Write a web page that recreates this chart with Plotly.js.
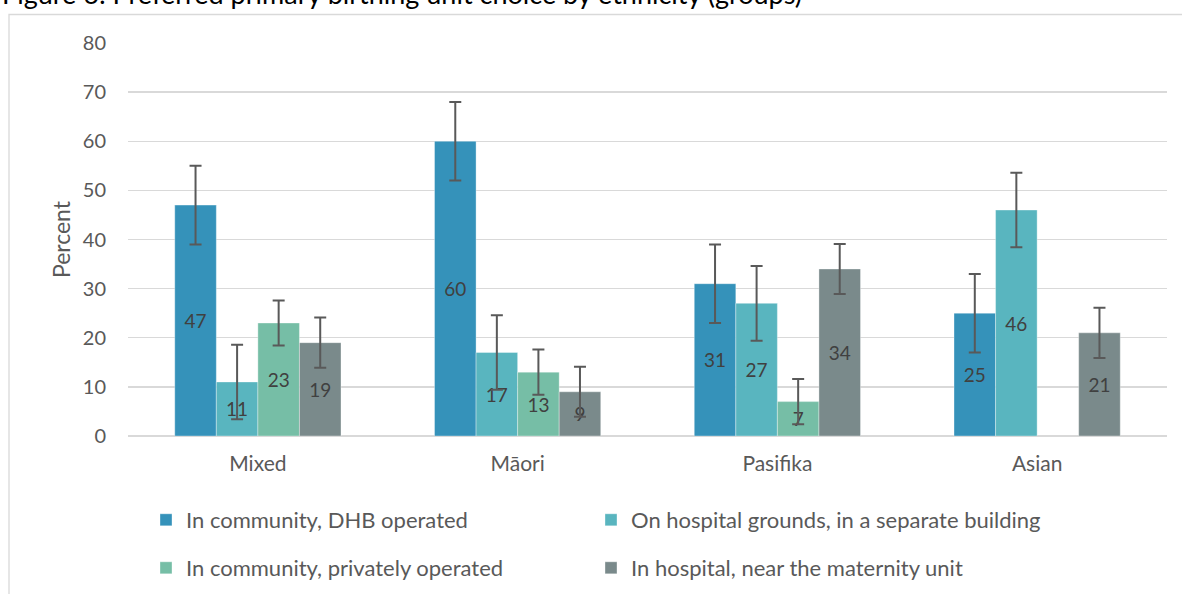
<!DOCTYPE html>
<html>
<head>
<meta charset="utf-8">
<script src="https://cdn.plot.ly/plotly-3.0.1.min.js"></script>
<style>
html,body{margin:0;padding:0;background:#fff;}
#chart{width:1182px;height:594px;}
</style>
</head>
<body>
<div id="chart"></div>
<script>
const categories = ["Mixed", "Māori", "Pasifika", "Asian"];
const seriesNames = [
  "In community, DHB operated",
  "On hospital grounds, in a separate building",
  "In community, privately operated",
  "In hospital, near the maternity unit"
];
const dhbOperated      = [47, 60, 31, 25];
const hospitalGrounds  = [11, 17, 27, 46];
const privatelyOperated= [23, 13, 7, null];
const inHospital       = [19, 9, 34, 21];

const dhbError      = [8, 8, 8, 8];
const groundsError  = [7.6, 7.6, 7.6, 7.6];
const privateError  = [4.6, 4.6, 4.6, null];
const hospitalError = [5.1, 5.1, 5.1, 5.1];

const colors = ["#3592ba", "#59b5bf", "#76bea6", "#7a8a8b"];
const values = [dhbOperated, hospitalGrounds, privatelyOperated, inHospital];
const errors = [dhbError, groundsError, privateError, hospitalError];
const legendIds = ["legend", "legend2", "legend3", "legend4"];
// legend slot positions in pixels (left x of box, centre y of row)
const legendX = [146, 591, 146, 591];
const legendY = [520, 520, 568, 568];

const FONT = "Lato, 'Open Sans', sans-serif";

const traces = values.map((v, i) => ({
  type: "bar",
  name: seriesNames[i],
  x: categories,
  y: v,
  text: v.map(d => d == null ? "" : String(d)),
  textposition: "inside",
  insidetextanchor: "middle",
  constraintext: "none",
  textfont: {family: FONT, size: 19, color: "#404040"},
  cliponaxis: false,
  showlegend: true,
  marker: {color: colors[i], line: {color: "rgba(255,255,255,0.35)", width: 1}},
  error_y: {type: "data", array: errors[i], visible: true, color: "#595959", thickness: 2, width: 6},
  legend: legendIds[i],
  hoverinfo: "x+y+name"
}));

const layout = {
  width: 1182, height: 594,
  showlegend: true,
  margin: {l: 128, r: 15, t: 43, b: 158},
  paper_bgcolor: "#ffffff",
  plot_bgcolor: "#ffffff",
  barmode: "group",
  bargap: 0.36,
  bargroupgap: 0,
  font: {family: FONT, color: "#595959", size: 18},
  xaxis: {
    type: "category",
    showgrid: false,
    showline: false,
    zeroline: false,
    ticks: "",
    ticklabelstandoff: 13,
    tickfont: {family: FONT, size: 21, color: "#595959"}
  },
  yaxis: {
    range: [0, 80],
    dtick: 10,
    tick0: 0,
    showgrid: true,
    gridcolor: "#d9d9d9",
    gridwidth: 1.3,
    zeroline: true,
    zerolinecolor: "#d9d9d9",
    zerolinewidth: 1.3,
    ticks: "",
    ticklabelstandoff: 21,
    tickfont: {family: FONT, size: 20, color: "#595959"},
    title: {text: "Percent", font: {family: FONT, size: 23, color: "#595959"}, standoff: 5}
  },
  shapes: [{
    type: "rect", xref: "paper", yref: "paper",
    x0: (9 - 128)/1039, x1: 1.2,
    y0: -0.6, y1: (436 - 14.5)/393,
    line: {color: "#d9d9d9", width: 1.3},
    fillcolor: "rgba(0,0,0,0)",
    layer: "below"
  }],
  annotations: [{
    text: "Figure 6: Preferred primary birthing unit choice by ethnicity (groups)",
    xref: "paper", yref: "paper",
    x: (0 - 128)/1039, xanchor: "left",
    y: (436 - 12)/393, yanchor: "bottom",
    showarrow: false,
    font: {family: FONT, size: 27, color: "#000000"}
  }]
};

legendIds.forEach((id, i) => {
  layout[id] = {
    visible: true,
    orientation: "h",
    xref: "container", yref: "container",
    x: legendX[i] / 1182, xanchor: "left",
    y: 1 - legendY[i] / 594, yanchor: "middle",
    font: {family: FONT, size: 22, color: "#595959"},
    itemwidth: 30,
    bgcolor: "rgba(0,0,0,0)"
  };
});

Plotly.newPlot("chart", traces, layout, {displayModeBar: false, staticPlot: true});
</script>
</body>
</html>
